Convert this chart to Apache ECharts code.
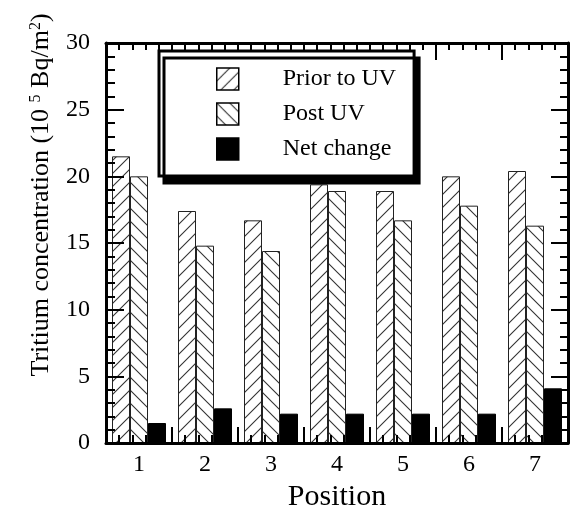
<!DOCTYPE html>
<html><head><meta charset="utf-8">
<script src="https://cdn.jsdelivr.net/npm/echarts@6/dist/echarts.min.js"></script>
<style>html,body{margin:0;padding:0;background:#fff}#c{width:573px;height:510px}</style>
</head><body><div id="c"></div>
<script>
const positions = ['1', '2', '3', '4', '5', '6', '7'];
const priorToUV = [21.5, 17.4, 16.7, 19.4, 18.9, 20.0, 20.4];
const postUV = [20.0, 14.8, 14.4, 18.9, 16.7, 17.8, 16.3];
const netChange = [1.5, 2.6, 2.2, 2.2, 2.2, 2.2, 4.1];
const seriesNames = ['Prior to UV', 'Post UV', 'Net change'];
const yMin = 0, yMax = 30, yStep = 5;

const FONT = 'Liberation Serif';

function hatch(dir) {
  const s = 13, c = document.createElement('canvas');
  c.width = s; c.height = s;
  const g = c.getContext('2d');
  g.fillStyle = '#fff'; g.fillRect(0, 0, s, s);
  g.strokeStyle = '#333'; g.lineWidth = 1.1;
  g.beginPath();
  if (dir > 0) {
    g.moveTo(-2, s + 2); g.lineTo(s + 2, -2);
    g.moveTo(-2, 2); g.lineTo(2, -2);
    g.moveTo(s - 2, s + 2); g.lineTo(s + 2, s - 2);
  } else {
    g.moveTo(-2, -2); g.lineTo(s + 2, s + 2);
    g.moveTo(s - 2, -2); g.lineTo(s + 2, 2);
    g.moveTo(-2, s - 2); g.lineTo(2, s + 2);
  }
  g.stroke();
  return c;
}

const tickLine = { color: '#000', width: 2 };
const frameLine = { color: '#000', width: 3 };

const chart = echarts.init(document.getElementById('c'), null, { renderer: 'canvas' });
chart.setOption({
  animation: false,
  backgroundColor: '#fff',
  grid: { left: 106, right: 5, top: 43, bottom: 67, containLabel: false, outerBoundsMode: 'none' },
  legend: {
    orient: 'vertical', left: 159, top: 51,
    padding: [16, 18, 15, 57], itemGap: 11, itemWidth: 22, itemHeight: 22,
    icon: 'rect',
    backgroundColor: '#fff', borderColor: '#000', borderWidth: 3,
    shadowColor: '#000', shadowOffsetX: 5, shadowOffsetY: 7, shadowBlur: 0,
    textStyle: { fontFamily: FONT, fontSize: 24, color: '#000', padding: [0, 0, 0, 39], lineHeight: 22 },
    itemStyle: { borderColor: '#000', borderWidth: 1.5 },
    data: seriesNames, z: 10
  },
  xAxis: [
    {
      type: 'category', data: positions, position: 'bottom', z: 6,
      axisLine: { show: true, onZero: false, lineStyle: frameLine },
      axisTick: { show: false },
      axisLabel: { fontFamily: FONT, fontSize: 24, color: '#000', margin: 10 },
      name: 'Position', nameLocation: 'middle', nameGap: 39,
      nameTextStyle: { fontFamily: FONT, fontSize: 30, color: '#000' }
    },
    {
      type: 'value', min: 0, max: 7, interval: 1, position: 'bottom', z: 6,
      axisLine: { show: false, onZero: false }, axisLabel: { show: false }, splitLine: { show: false },
      axisTick: { show: true, inside: true, length: 16, lineStyle: tickLine },
      minorTick: { show: true, splitNumber: 5, length: 8, lineStyle: tickLine }
    },
    {
      type: 'value', min: 0, max: 7, interval: 1, position: 'top', z: 6,
      axisLine: { show: true, onZero: false, lineStyle: frameLine }, axisLabel: { show: false }, splitLine: { show: false },
      axisTick: { show: true, inside: true, length: 17, lineStyle: tickLine },
      minorTick: { show: true, splitNumber: 5, length: 7, lineStyle: tickLine }
    }
  ],
  yAxis: [
    {
      type: 'value', min: yMin, max: yMax, interval: yStep, position: 'left', z: 6,
      axisLine: { show: true, onZero: false, lineStyle: frameLine },
      axisTick: { show: true, inside: true, length: 18, lineStyle: tickLine },
      minorTick: { show: true, splitNumber: 5, length: 9, lineStyle: tickLine },
      splitLine: { show: false },
      axisLabel: { fontFamily: FONT, fontSize: 24, color: '#000', margin: 16 },
      name: 'Tritium concentration (10 {sup|5} Bq/m{sup|2})',
      nameLocation: 'middle', nameGap: 52, nameRotate: 90,
      nameTextStyle: {
        fontFamily: FONT, fontSize: 26, color: '#000', padding: [0, 0, 0, 96],
        rich: { sup: { fontFamily: FONT, fontSize: 16, color: '#000', verticalAlign: 'top' } }
      }
    },
    {
      type: 'value', min: yMin, max: yMax, interval: yStep, position: 'right', z: 6,
      axisLine: { show: true, onZero: false, lineStyle: frameLine },
      axisTick: { show: true, inside: true, length: 17, lineStyle: tickLine },
      minorTick: { show: true, splitNumber: 5, length: 8, lineStyle: tickLine },
      splitLine: { show: false }, axisLabel: { show: false }
    }
  ],
  series: [
    {
      name: seriesNames[0], type: 'bar', data: priorToUV, barWidth: 18, barGap: '0%',
      itemStyle: { color: { image: hatch(1), repeat: 'repeat' }, borderColor: '#222', borderWidth: 1 }
    },
    {
      name: seriesNames[1], type: 'bar', data: postUV, barWidth: 18, barGap: '0%',
      itemStyle: { color: { image: hatch(-1), repeat: 'repeat' }, borderColor: '#222', borderWidth: 1 }
    },
    {
      name: seriesNames[2], type: 'bar', data: netChange, barWidth: 18, barGap: '0%',
      itemStyle: { color: '#000', borderColor: '#000', borderWidth: 1 }
    }
  ]
});
</script>
</body></html>
